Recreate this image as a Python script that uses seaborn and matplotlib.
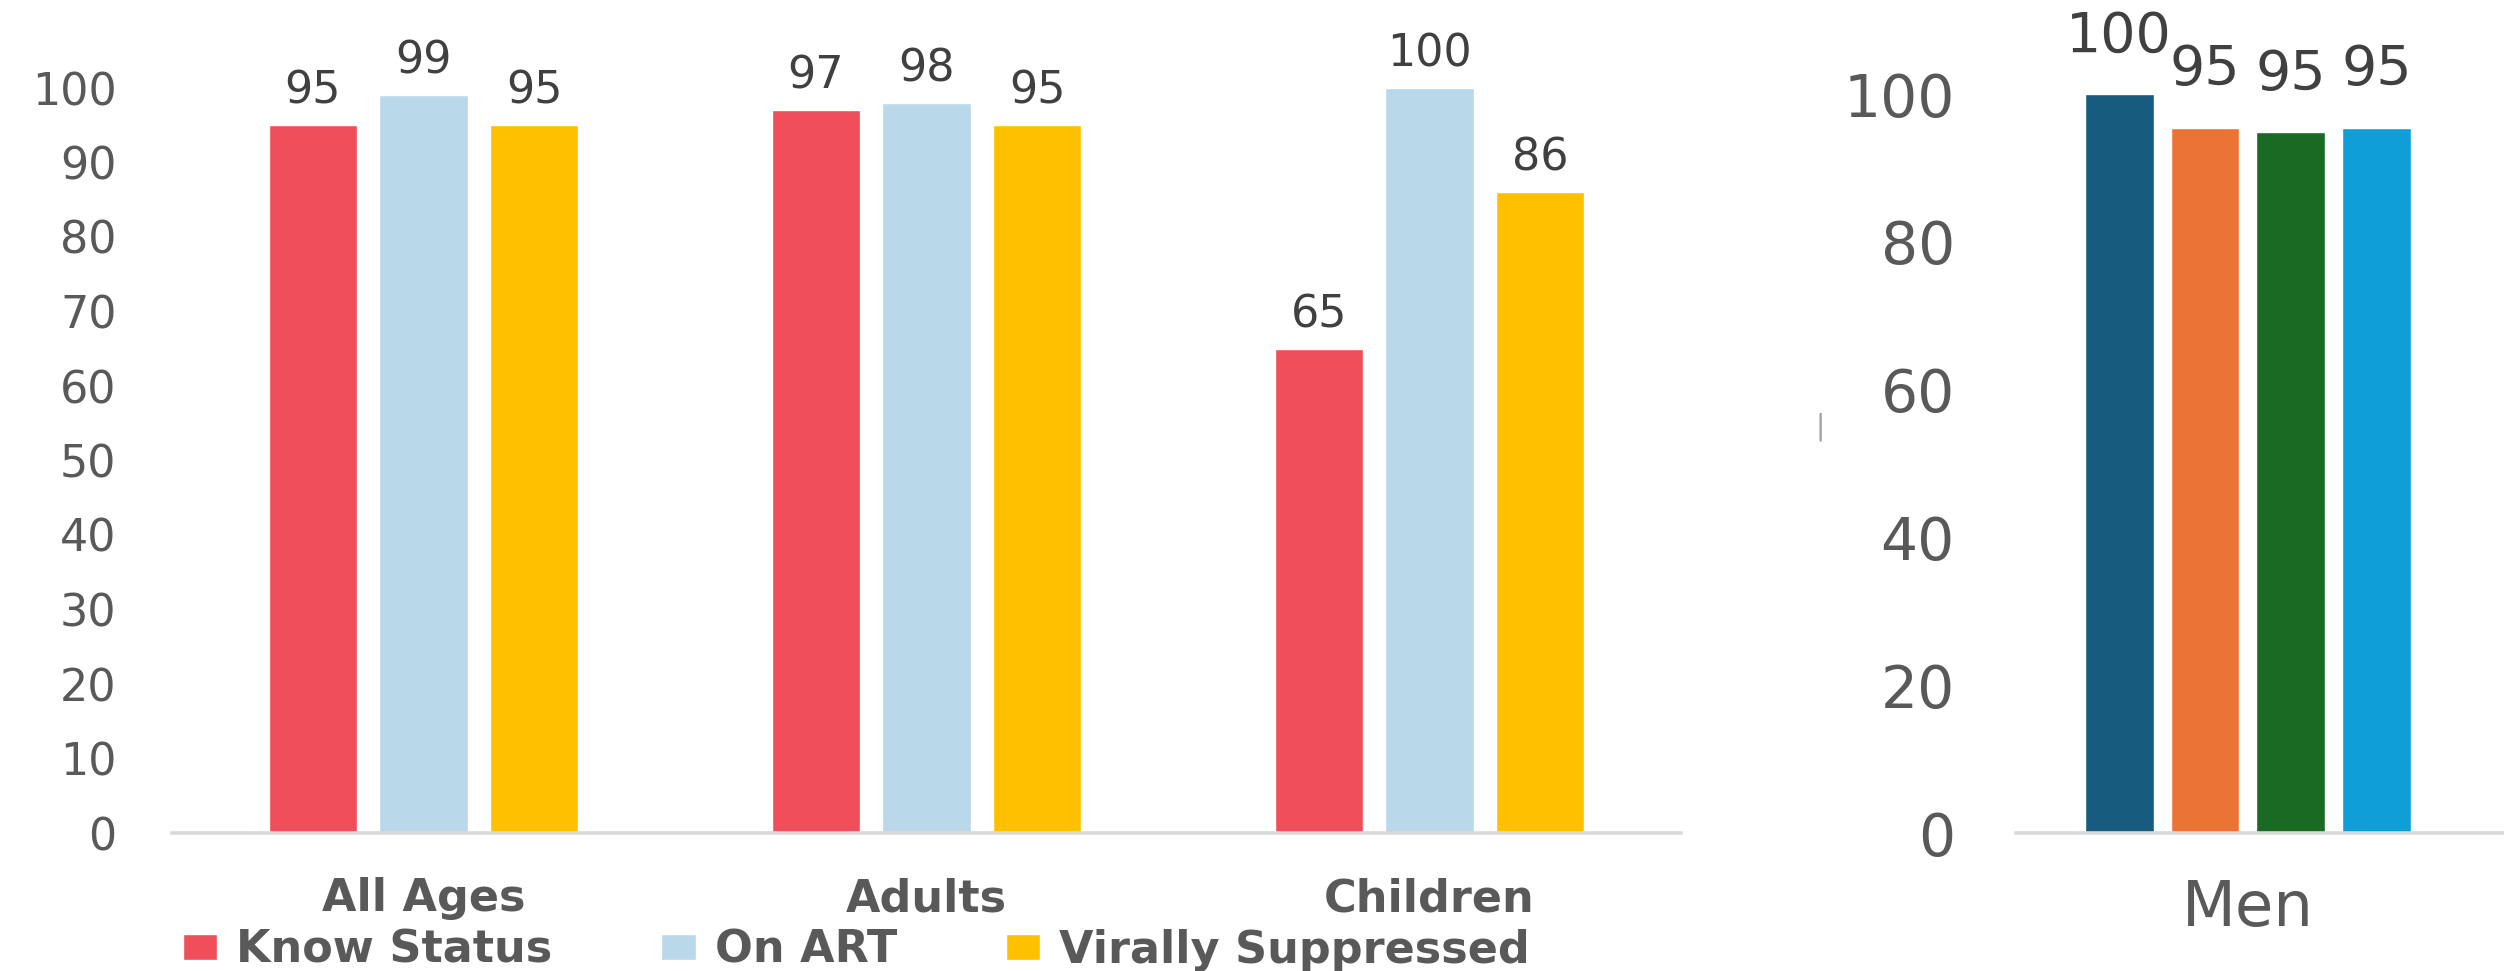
import matplotlib
matplotlib.use("Agg")
import matplotlib.pyplot as plt
import seaborn as sns
import pandas as pd

# ---- data ----
groups = ["All Ages", "Adults", "Children"]
series = ["Know Status", "On ART", "Virally Suppressed"]
know_status = [95, 97, 65]
on_art = [99, 98, 100]
virally_suppressed = [95, 95, 86]
left_colors = ["#F04E5A", "#B9D8E9", "#FFC000"]
left_yticks = [0, 10, 20, 30, 40, 50, 60, 70, 80, 90, 100]

men_group = ["Men"]
men_series = ["bar1", "bar2", "bar3", "bar4"]
men_values = [100, 95.4, 94.8, 95.4]
men_labels = ["100", "95", "95", "95"]
right_colors = ["#175C7E", "#EA7335", "#1A6A24", "#109ED6"]
right_yticks = [0, 20, 40, 60, 80, 100]

sns.set_style("white")
plt.rcParams["font.family"] = ["DejaVu Sans"]

W, H = 2504, 971
fig = plt.figure(figsize=(W / 100, H / 100), dpi=100)
fig.patch.set_facecolor("white")

TXT = "#595959"
LBL = "#404040"
AXC = "#D9D9D9"

# ---- left panel ----
rows = []
for s, vals in zip(series, [know_status, on_art, virally_suppressed]):
    for g, v in zip(groups, vals):
        rows.append({"group": g, "series": s, "value": v})
df_left = pd.DataFrame(rows)

axL = fig.add_axes([172 / W, 138 / H, 1509 / W, 833 / H])
sns.barplot(data=df_left, x="group", y="value", hue="series", order=groups,
            hue_order=series, palette=left_colors, saturation=1,
            width=0.66, gap=0.2, ax=axL)
axL.set_xlim(-0.5, 2.5)
axL.set_ylim(0, 833 / 7.45)
axL.set_yticks(left_yticks)
axL.set_xlabel("")
axL.set_ylabel("")
for sp in ["left", "right", "top"]:
    axL.spines[sp].set_visible(False)
axL.spines["bottom"].set_color(AXC)
axL.spines["bottom"].set_linewidth(2.6)
axL.tick_params(axis="y", length=0, pad=40, labelsize=32, labelcolor=TXT)
axL.tick_params(axis="x", length=0, pad=32, labelsize=32, labelcolor=TXT)
for t in axL.get_xticklabels():
    t.set_fontweight("bold")
for c in axL.containers:
    axL.bar_label(c, fmt="%.0f", padding=9, fontsize=32, color=LBL)

sns.move_legend(axL, "center left", bbox_to_anchor=(183 / W, 1 - 950 / H),
                bbox_transform=fig.transFigure, ncol=3, frameon=False, title=None,
                fontsize=32, handlelength=0.77, handleheight=0.54,
                handletextpad=0.43, columnspacing=2.45, borderpad=0,
                borderaxespad=0)
leg = axL.get_legend()
for t in leg.get_texts():
    t.set_fontweight("bold")
    t.set_color(TXT)

# ---- right panel ----
df_right = pd.DataFrame({"group": men_group * len(men_series),
                         "series": men_series, "value": men_values})
axR = fig.add_axes([2016 / W, 138 / H, 488 / W, 833 / H])
sns.barplot(data=df_right, x="group", y="value", hue="series",
            hue_order=men_series, palette=right_colors, saturation=1,
            width=0.8, gap=0.2, legend=False, ax=axR)
axR.set_xlim(-0.541, 0.598)
axR.set_ylim(0, 833 / 7.39)
axR.set_yticks(right_yticks)
axR.set_xlabel("")
axR.set_ylabel("")
for sp in ["left", "right", "top"]:
    axR.spines[sp].set_visible(False)
axR.spines["bottom"].set_color(AXC)
axR.spines["bottom"].set_linewidth(2.6)
axR.tick_params(axis="y", length=0, pad=44, labelsize=42, labelcolor=TXT)
axR.tick_params(axis="x", length=0, pad=33, labelsize=45, labelcolor=TXT)
for c, lab in zip(axR.containers, men_labels):
    axR.bar_label(c, labels=[lab], padding=22, fontsize=40, color=LBL)

fig.text(1820 / W, 1 - 427 / H, "|", color="#A0A0A0", fontsize=20,
         ha="center", va="center")

fig.savefig("out.png", dpi=100, facecolor="white")
